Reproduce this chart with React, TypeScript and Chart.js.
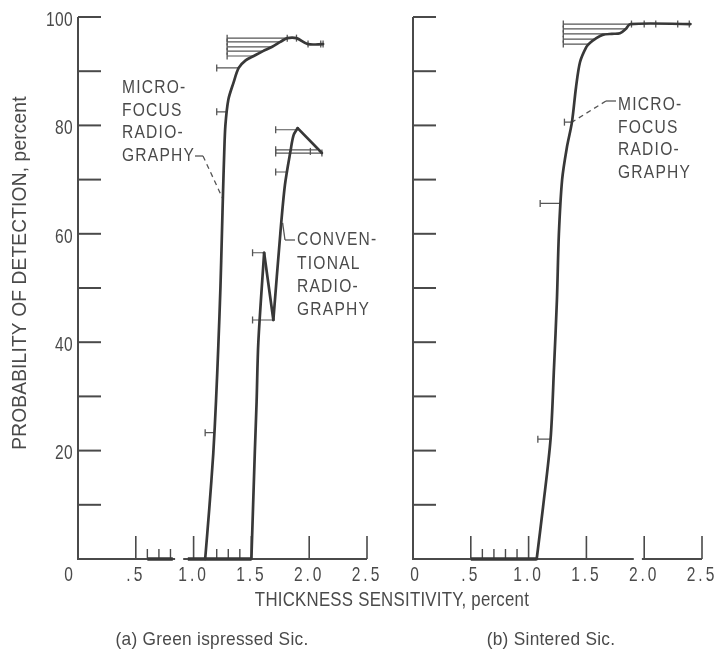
import React, { useEffect, useRef } from 'react';
import { Chart, registerables } from 'chart.js';

Chart.register(...registerables);

const FONT = '"Liberation Sans", Arial, sans-serif';
const INK = '#383838';
const AXIS = '#4a4a4a';
const TEXT = '#4a4a4a';

// ---- axis ticks / labels ----
const xMajorTicks = [0.5, 1.0, 1.5, 2.0, 2.5];
const xTickValues = [0, 0.5, 1.0, 1.5, 2.0, 2.5];
const xTickLabels = ['0', '.5', '1.0', '1.5', '2.0', '2.5'];
const yTickValues = [10, 20, 30, 40, 50, 60, 70, 80, 90, 100];
const yLabelValues = [20, 40, 60, 80, 100];
const yLabelTexts = ['20', '40', '60', '80', '100'];

// ---- panel (a) Green ispressed SiC ----
const aMicroX = [1.10, 1.136, 1.17, 1.194, 1.214, 1.232, 1.245, 1.255, 1.265, 1.275, 1.30, 1.344, 1.39, 1.45, 1.52, 1.60, 1.68, 1.75, 1.81, 1.89, 1.99, 2.12];
const aMicroY = [0, 9.4, 19.4, 29.2, 39.4, 50, 60, 68, 75, 80, 84.7, 87.8, 90.6, 92.0, 92.8, 93.7, 94.5, 95.4, 96.1, 96.1, 95.0, 95.0];
const aMicroErrY = [23.3, 82.5, 90.6, 92.8, 93.7, 94.5, 95.4, 96.1];
const aMicroErrLo = [1.10, 1.20, 1.20, 1.29, 1.29, 1.29, 1.29, 1.29];
const aMicroErrHi = [1.18, 1.29, 1.39, 1.52, 1.60, 1.68, 1.75, 1.81];
const aMicroMarkX = [1.81, 1.89, 1.99, 2.10, 2.12];
const aMicroMarkY = [96.1, 96.1, 95.0, 95.0, 95.0];

const aConvLowX = [1.50, 1.53, 1.545, 1.56, 1.61];
const aConvLowY = [0, 20, 29, 40, 56.5];
const aConvDropX = [1.61, 1.69];
const aConvDropY = [56.5, 44.1];
const aConvHighX = [1.69, 1.75, 1.79, 1.84, 1.865, 1.90];
const aConvHighY = [44.1, 60, 69, 75.5, 78.2, 79.5];
const aConvTailX = [1.90, 2.11];
const aConvTailY = [79.5, 74.9];
const aConvErrY = [44.1, 56.5, 71.4, 74.9, 75.5, 79.2];
const aConvErrLo = [1.51, 1.51, 1.71, 1.71, 1.71, 1.71];
const aConvErrHi = [1.69, 1.61, 1.80, 2.11, 2.07, 1.90];
const aConvMarkX = [2.01, 2.11];
const aConvMarkY = [75.2, 74.9];

const aZeroStart = [0.6, 0.95];
const aZeroEnd = [0.82, 1.50];
const aMinorTicks = [0.6, 0.7, 0.8, 1.2, 1.3, 1.4];
const aBaseStart = [0, 0.91];
const aBaseEnd = [0.84, 2.5];

// ---- panel (b) Sintered SiC ----
const bMicroX = [1.07, 1.125, 1.19, 1.22, 1.245, 1.262, 1.29, 1.33, 1.375, 1.41, 1.445, 1.50, 1.53, 1.58, 1.64, 1.72, 1.79, 1.84, 1.88, 2.40];
const bMicroY = [0, 9.6, 22.1, 35.4, 47.8, 60, 70, 75.8, 80.6, 87.0, 91.7, 94.5, 95.2, 96.0, 96.7, 96.9, 97.0, 97.8, 98.7, 98.7];
const bMicroErrY = [22.1, 65.6, 80.6, 95.0, 95.9, 96.9, 97.8, 98.7];
const bMicroErrLo = [1.08, 1.10, 1.31, 1.30, 1.30, 1.30, 1.30, 1.30];
const bMicroErrHi = [1.19, 1.275, 1.375, 1.53, 1.58, 1.72, 1.84, 1.88];
const bMicroMarkX = [1.89, 2.00, 2.10, 2.29, 2.39];
const bMicroMarkY = [98.7, 98.7, 98.7, 98.7, 98.7];

const bZeroStart = [0.5];
const bZeroEnd = [1.07];
const bMinorTicks = [0.6, 0.7, 0.8, 0.9];
const bBaseStart = [0, 1.98];
const bBaseEnd = [1.91, 2.5];

// ---- text ----
const aMicroNote = ['MICRO-', 'FOCUS', 'RADIO-', 'GRAPHY'];
const aConvNote = ['CONVEN-', 'TIONAL', 'RADIO-', 'GRAPHY'];
const bMicroNote = ['MICRO-', 'FOCUS', 'RADIO-', 'GRAPHY'];
const yTitle = 'PROBABILITY OF DETECTION, percent';
const xTitle = 'THICKNESS SENSITIVITY, percent';
const aCaption = '(a) Green ispressed Sic.';
const bCaption = '(b) Sintered Sic.';

const W = 716;
const H = 652;

function pts(xs: number[], ys: number[]) {
  return xs.map((x, i) => ({ x, y: ys[i] }));
}

function segs(y: number[], lo: number[], hi: number[]) {
  const out: any[] = [];
  y.forEach((v, i) => {
    out.push({ x: lo[i], y: v }, { x: hi[i], y: v }, { x: hi[i], y: null });
  });
  return out;
}

function curveDs(xs: number[], ys: number[], tension = 0) {
  return {
    data: pts(xs, ys), borderColor: INK, borderWidth: 2.7, pointRadius: 0, fill: false, clip: false,
    tension, borderJoinStyle: 'round', borderCapStyle: 'round',
  };
}
function errDs(y: number[], lo: number[], hi: number[], width = 1.2, color = '#555') {
  return { data: segs(y, lo, hi), borderColor: color, borderWidth: width, pointRadius: 0, spanGaps: false, fill: false, clip: false };
}
function capDs(xs: number[], ys: number[]) {
  return {
    data: pts(xs, ys), showLine: false, pointStyle: 'line', rotation: 90, pointRadius: 3.5,
    pointBorderWidth: 1.3, pointBorderColor: '#555', borderColor: '#555', clip: false,
  };
}

function txt(ctx: CanvasRenderingContext2D, s: string, x: number, y: number, size: number, sx: number, align: CanvasTextAlign, spacing = 0, rot = 0) {
  ctx.save();
  ctx.translate(x, y);
  if (rot) ctx.rotate(rot);
  ctx.scale(sx, 1);
  ctx.font = `${size}px ${FONT}`;
  (ctx as any).letterSpacing = `${spacing}px`;
  ctx.textAlign = align;
  ctx.textBaseline = 'middle';
  ctx.fillText(s, 0, 0);
  ctx.restore();
}

const panelPlugin = {
  id: 'panelDecor',
  beforeDatasetsDraw(chart: any, _args: any, o: any) {
    const ctx: CanvasRenderingContext2D = chart.ctx;
    const xs = chart.scales.x;
    const ys = chart.scales.y;
    const X = (v: number) => xs.getPixelForValue(v);
    const Y = (v: number) => ys.getPixelForValue(v);
    const line = (x1: number, y1: number, x2: number, y2: number) => {
      ctx.beginPath(); ctx.moveTo(x1, y1); ctx.lineTo(x2, y2); ctx.stroke();
    };
    ctx.save();
    ctx.strokeStyle = AXIS;
    ctx.lineWidth = 2;
    // y axis + inward ticks
    line(X(0), Y(0) + 1, X(0), Y(100));
    yTickValues.forEach((v) => line(X(0), Y(v), X(0) + 23, Y(v)));
    // baseline segments
    o.baseStart.forEach((s: number, i: number) => line(X(s), Y(0), X(o.baseEnd[i]), Y(0)));
    // major x ticks
    ctx.lineWidth = 1.6;
    xMajorTicks.forEach((v) => line(X(v), Y(0), X(v), Y(0) - 23));
    ctx.lineWidth = 1.4;
    o.minor.forEach((v: number) => line(X(v), Y(0), X(v), Y(0) - 10));

    ctx.fillStyle = TEXT;
    xTickValues.forEach((v, i) => {
      txt(ctx, xTickLabels[i], X(v) + (i === 0 ? o.zeroDx : 0), Y(0) + 16, 21, 0.74, 'center', 4);
    });
    if (o.yLabels) {
      yLabelValues.forEach((v, i) => txt(ctx, yLabelTexts[i], X(0) - 5, Y(v) + 3, 21, 0.74, 'right', 0.5));
    }

    // annotations
    o.notes.forEach((n: any) => {
      n.lines.forEach((t: string, i: number) => txt(ctx, t, n.x, n.y + i * n.dy, 19, 0.82, 'left', 1.5));
      ctx.lineWidth = 1.3;
      ctx.strokeStyle = '#555';
      ctx.setLineDash([]);
      ctx.beginPath();
      n.hook.forEach((p: number[], i: number) => (i ? ctx.lineTo(p[0], p[1]) : ctx.moveTo(p[0], p[1])));
      ctx.stroke();
      ctx.setLineDash(n.dash);
      const last = n.hook[n.hook.length - 1];
      line(last[0], last[1], X(n.target[0]), Y(n.target[1]));
      ctx.setLineDash([]);
    });

    // titles
    if (o.titles) {
      txt(ctx, xTitle, 392, 600, 20, 0.84, 'center', 0.3);
      txt(ctx, yTitle, 20, 273, 21, 0.91, 'center', 0.2, -Math.PI / 2);
    }
    txt(ctx, o.caption, o.captionX, 640, 19, o.captionSx, 'center', 0.3);
    ctx.restore();
  },
};

function makeChart(canvas: HTMLCanvasElement, datasets: any[], padding: any, decor: any) {
  return new Chart(canvas, {
    type: 'line',
    data: { datasets },
    options: {
      responsive: false,
      animation: false,
      devicePixelRatio: 1,
      events: [],
      layout: { padding },
      scales: {
        x: { type: 'linear', min: 0, max: 2.5, display: false },
        y: { type: 'linear', min: 0, max: 100, display: false },
      },
      plugins: { legend: { display: false }, tooltip: { enabled: false }, panelDecor: decor } as any,
    },
    plugins: [panelPlugin],
  } as any);
}

export default function App() {
  const leftRef = useRef<HTMLCanvasElement>(null);
  const rightRef = useRef<HTMLCanvasElement>(null);

  useEffect(() => {
    const left = makeChart(
      leftRef.current!,
      [
        curveDs(aMicroX, aMicroY, 0.3),
        curveDs(aConvLowX, aConvLowY, 0.3),
        curveDs(aConvDropX, aConvDropY),
        curveDs(aConvHighX, aConvHighY, 0.3),
        curveDs(aConvTailX, aConvTailY),
        errDs(aMicroErrY, aMicroErrLo, aMicroErrHi),
        errDs(aConvErrY, aConvErrLo, aConvErrHi),
        errDs([0, 0], aZeroStart, aZeroEnd, 3.4, INK),
        capDs(aMicroErrLo, aMicroErrY),
        capDs(aConvErrLo, aConvErrY),
        capDs(aMicroMarkX, aMicroMarkY),
        capDs(aConvMarkX, aConvMarkY),
      ],
      { left: 78, right: W - 367, top: 17, bottom: H - 559 },
      {
        baseStart: aBaseStart, baseEnd: aBaseEnd, minor: aMinorTicks, zeroDx: -8, yLabels: true, titles: true,
        caption: aCaption, captionX: 212, captionSx: 0.91,
        notes: [
          { lines: aMicroNote, x: 122, y: 88, dy: 22.5, hook: [[195, 156], [203, 156]], target: [1.252, 66.5], dash: [5, 4] },
          { lines: aConvNote, x: 297, y: 240, dy: 23.3, hook: [[295, 240], [285, 240]], target: [1.77, 62], dash: [] },
        ],
      },
    );
    const right = makeChart(
      rightRef.current!,
      [
        curveDs(bMicroX, bMicroY, 0.3),
        errDs(bMicroErrY, bMicroErrLo, bMicroErrHi),
        errDs([0], bZeroStart, bZeroEnd, 3.4, INK),
        capDs(bMicroErrLo, bMicroErrY),
        capDs(bMicroMarkX, bMicroMarkY),
      ],
      { left: 413, right: W - 702, top: 17, bottom: H - 559 },
      {
        baseStart: bBaseStart, baseEnd: bBaseEnd, minor: bMinorTicks, zeroDx: 3, yLabels: false, titles: false,
        caption: bCaption, captionX: 551, captionSx: 0.91,
        notes: [
          { lines: bMicroNote, x: 618, y: 105, dy: 22.6, hook: [[616, 101], [606, 101]], target: [1.375, 80.6], dash: [5, 4] },
        ],
      },
    );
    return () => {
      left.destroy();
      right.destroy();
    };
  }, []);

  const cs: React.CSSProperties = { position: 'absolute', left: 0, top: 0, width: W, height: H };
  return (
    <div style={{ position: 'fixed', left: 0, top: 0, width: W, height: H, background: '#fff' }}>
      <canvas ref={leftRef} width={W} height={H} style={cs} />
      <canvas ref={rightRef} width={W} height={H} style={cs} />
    </div>
  );
}
